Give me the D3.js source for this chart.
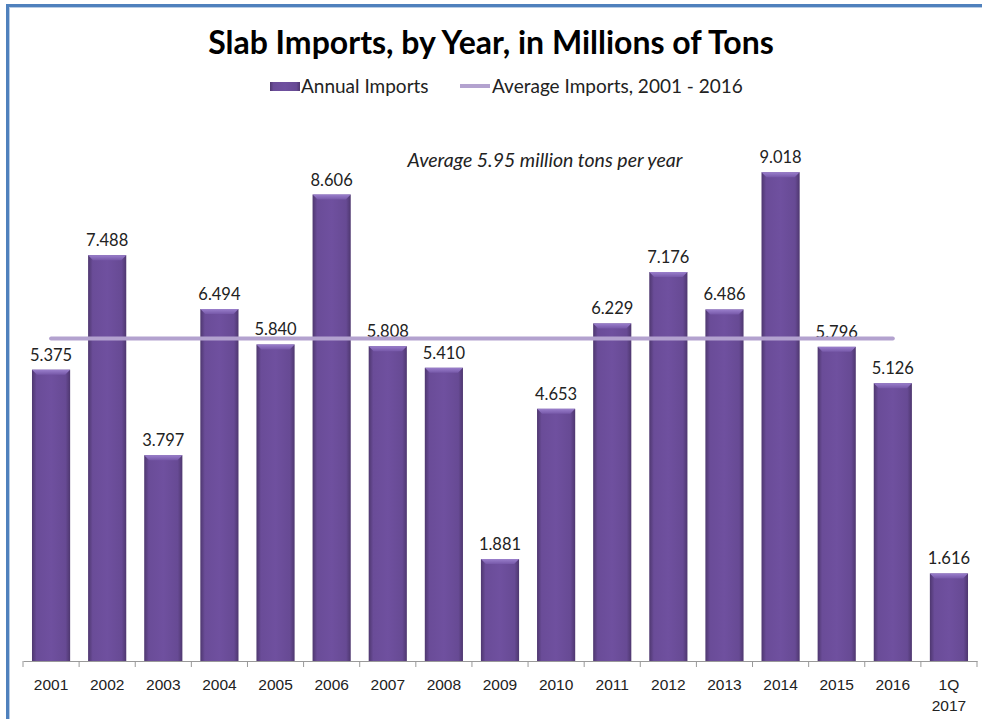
<!DOCTYPE html>
<html>
<head>
<meta charset="utf-8">
<script src="https://cdn.jsdelivr.net/npm/d3@7"></script>
<style>
  body { margin: 0; background: #fff; }
  svg { display: block; font-family: Lato, "Open Sans", sans-serif; }
</style>
</head>
<body>
<script>
var categories = ["2001","2002","2003","2004","2005","2006","2007","2008","2009","2010","2011","2012","2013","2014","2015","2016","1Q\n2017"];
var imports = [5.375,7.488,3.797,6.494,5.840,8.606,5.808,5.410,1.881,4.653,6.229,7.176,6.486,9.018,5.796,5.126,1.616];
var averageValue = 5.95;
var averageYears = 16; // 2001 - 2016

var width = 982, height = 719;

var svg = d3.select("body").append("svg")
  .attr("width", width)
  .attr("height", height);

// frame
svg.append("rect")
  .attr("x", 7.5).attr("y", 5.5)
  .attr("width", 1000).attr("height", 800)
  .attr("fill", "none")
  .attr("stroke", "#4f81bd")
  .attr("stroke-width", 3);
svg.append("rect")
  .attr("x", 9.5).attr("y", 7.5)
  .attr("width", 1000).attr("height", 800)
  .attr("fill", "none")
  .attr("stroke", "#b8cce4")
  .attr("stroke-width", 1);

var defs = svg.append("defs");
var grad = defs.append("linearGradient").attr("id", "barGrad")
  .attr("x1", "0%").attr("x2", "100%").attr("y1", "0%").attr("y2", "0%");
grad.append("stop").attr("offset", "0%").attr("stop-color", "#4e376f");
grad.append("stop").attr("offset", "12%").attr("stop-color", "#6a4c98");
grad.append("stop").attr("offset", "50%").attr("stop-color", "#6f509f");
grad.append("stop").attr("offset", "88%").attr("stop-color", "#674a94");
grad.append("stop").attr("offset", "100%").attr("stop-color", "#4e376f");

var topGrad = defs.append("linearGradient").attr("id", "topGrad")
  .attr("x1", "0%").attr("x2", "0%").attr("y1", "0%").attr("y2", "100%");
topGrad.append("stop").attr("offset", "0%").attr("stop-color", "#9a7fcc");
topGrad.append("stop").attr("offset", "100%").attr("stop-color", "#7658a8");

var x = d3.scaleBand()
  .domain(categories)
  .range([23, 977])
  .paddingInner(0.32)
  .paddingOuter(0.16);

var y = d3.scaleLinear()
  .domain([0, 10])
  .range([661, 119]);

// title
svg.append("text")
  .attr("x", 491).attr("y", 54)
  .attr("text-anchor", "middle")
  .attr("font-size", 32)
  .attr("font-weight", "bold")
  .attr("fill", "#000")
  .text("Slab Imports, by Year, in Millions of Tons");

// legend
var legend = svg.append("g").attr("font-size", 19).attr("fill", "#222");
legend.append("rect")
  .attr("x", 270).attr("y", 82).attr("width", 30).attr("height", 9)
  .attr("fill", "url(#barGrad)");
legend.append("text").attr("x", 301).attr("y", 93).text("Annual Imports");
legend.append("line")
  .attr("x1", 460).attr("x2", 490).attr("y1", 86).attr("y2", 86)
  .attr("stroke", "#b3a2cf").attr("stroke-width", 4);
legend.append("text").attr("x", 492).attr("y", 93).text("Average Imports, 2001 - 2016");

// bars
var bars = svg.append("g").selectAll("g")
  .data(imports)
  .enter().append("g");

bars.append("rect")
  .attr("x", function(d, i) { return x(categories[i]); })
  .attr("y", function(d) { return y(d); })
  .attr("width", x.bandwidth())
  .attr("height", function(d) { return y(0) - y(d); })
  .attr("fill", "url(#barGrad)");

bars.append("path")
  .attr("d", function(d, i) {
    var x0 = x(categories[i]), x1 = x0 + x.bandwidth(), t = y(d), b = 5;
    return "M" + x0 + "," + t + "L" + x1 + "," + t + "L" + (x1 - b) + "," + (t + b) + "L" + (x0 + b) + "," + (t + b) + "Z";
  })
  .attr("fill", "url(#topGrad)");

// value labels
bars.append("text")
  .attr("x", function(d, i) { return x(categories[i]) + x.bandwidth() / 2; })
  .attr("y", function(d) { return y(d) - 9; })
  .attr("text-anchor", "middle")
  .attr("font-size", 16.5)
  .attr("fill", "#222")
  .text(function(d) { return d3.format(".3f")(d); });

// average line
var avgCats = categories.slice(0, averageYears);
svg.append("line")
  .attr("x1", x(avgCats[0]) + x.bandwidth() / 2)
  .attr("x2", x(avgCats[avgCats.length - 1]) + x.bandwidth() / 2)
  .attr("y1", y(averageValue))
  .attr("y2", y(averageValue))
  .attr("stroke", "#b3a2cf")
  .attr("stroke-width", 4)
  .attr("stroke-linecap", "round");

svg.append("text")
  .attr("x", 545).attr("y", 167)
  .attr("text-anchor", "middle")
  .attr("font-size", 19.5)
  .attr("font-style", "italic")
  .attr("fill", "#222")
  .text("Average " + averageValue + " million tons per year");

// axis
var axis = d3.axisBottom(x).tickSize(0).tickFormat("");
var gx = svg.append("g").attr("transform", "translate(0," + y(0) + ")").call(axis);
gx.select(".domain").attr("stroke", "#999");
var step = x.step();
var bounds = d3.range(categories.length + 1).map(function(i) { return 23 + i * step; });
gx.selectAll(".sep").data(bounds).enter().append("line")
  .attr("x1", function(d) { return d; }).attr("x2", function(d) { return d; })
  .attr("y1", 0).attr("y2", 6)
  .attr("stroke", "#999");

gx.selectAll(".lab").data(categories).enter().append("text")
  .attr("text-anchor", "middle")
  .attr("font-size", 15.5)
  .attr("fill", "#222")
  .each(function(d) {
    var t = d3.select(this);
    d.split("\n").forEach(function(s, k) {
      t.append("tspan")
        .attr("x", x(d) + x.bandwidth() / 2)
        .attr("y", 29 + k * 21)
        .text(s);
    });
  });
</script>
</body>
</html>
